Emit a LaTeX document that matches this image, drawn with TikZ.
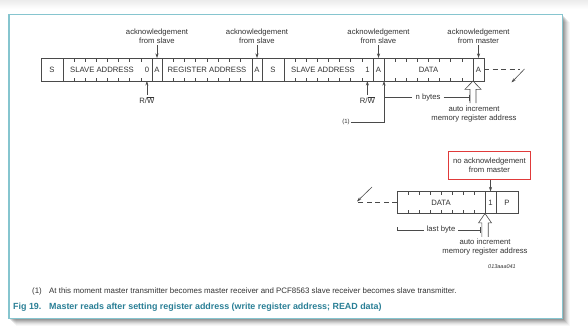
\documentclass[tikz,border=0pt]{standalone}
\usepackage{fontspec}
\setmainfont{Liberation Sans}
\usetikzlibrary{arrows.meta, calc, positioning}
\definecolor{linegray}{HTML}{4A4A4A}
\definecolor{txtgray}{HTML}{333333}
\definecolor{frameteal}{HTML}{86C5CF}
\definecolor{capteal}{HTML}{2A7F96}
\definecolor{nackred}{HTML}{E03A3A}
\newcommand{\diagfont}{\fontsize{7.7}{9}\selectfont}
\newcommand{\notefont}{\fontsize{7.9}{9}\selectfont}
\newcommand{\capfont}{\fontsize{8.9}{10}\selectfont\bfseries}
\newcommand{\rwbar}{R/$\overline{\hbox{W}}$}
\tikzset{
	field/.style={
			draw=linegray,
			line width=0.6pt,
			minimum height=23pt,
			inner sep=0pt,
			outer sep=0pt,
			text=txtgray,
			font=\diagfont
		},
	bittxt/.style={
			field,
			draw=none
		},
	plaintxt/.style={
			text=txtgray,
			font=\diagfont,
			inner sep=1pt,
			align=center
		},
	ptr/.style={
			draw=linegray,
			line width=0.6pt,
			-{Stealth[length=4.5pt, width=3pt]}
		},
	thinline/.style={
			draw=linegray,
			line width=0.6pt
		},
	contline/.style={
			thinline,
			dash pattern=on 5pt off 3.5pt
		},
	hollow/.style={
			thinline,
			line join=miter
		},
	nacknode/.style={
			plaintxt,
			draw=nackred,
			line width=0.8pt,
			minimum width=82pt,
			minimum height=27.5pt
		}
}

\begin{document}
\begin{tikzpicture}[x=1pt, y=-1pt]
\useasboundingbox (0,0) rectangle (588,332);
% page band, shadow and frame
\shade[top color=gray!15, bottom color=white] (0,0) rectangle (588,9);
\foreach \d/\o in {1/0.12,2/0.11,3/0.10,4/0.09,5/0.07,6/0.06,7/0.04,8/0.03}
  \fill[black, opacity=\o] (8+\d,14+\d) rectangle (562+\d,318+\d);
\fill[white] (8,14) rectangle (562,318);
\draw[frameteal, line width=1pt] (8,14) rectangle (562,318);
\draw[frameteal, line width=2pt] (8.5,14) -- (8.5,318);

% write register address, then read
\node[field, minimum width=22pt] (s1) at (52,69.5) {S};
\node[field, minimum width=89pt] (sla1) at (107.5,69.5) {};
\node[field, minimum width=10pt] (a1) at (157,69.5) {A};
\node[field, minimum width=90pt] (reg) at (207,69.5) {REGISTER ADDRESS};
\node[field, minimum width=10pt] (a2) at (257,69.5) {A};
\node[field, minimum width=22pt] (s2) at (273,69.5) {S};
\node[field, minimum width=89pt] (sla2) at (328.5,69.5) {};
\node[field, minimum width=11pt] (a3) at (378.5,69.5) {A};
\node[field, minimum width=89pt] (data1) at (428.5,69.5) {DATA};
\node[field, minimum width=11pt] (a4) at (478.5,69.5) {A};
\node[bittxt] (sla1txt) at (102,69.5) {SLAVE ADDRESS};
\node[bittxt, minimum width=11pt] (rw1bit) at (146.9,69.5) {0};
\node[bittxt] (sla2txt) at (323,69.5) {SLAVE ADDRESS};
\node[bittxt, minimum width=11pt] (rw2bit) at (367.4,69.5) {1};

% last byte
\node[field, minimum width=88pt, minimum height=22pt] (data2) at (441,202.5) {DATA};
\node[field, minimum width=11pt, minimum height=22pt] (nack) at (490.5,202.5) {1};
\node[field, minimum width=22pt, minimum height=22pt] (p) at (507,202.5) {P};

% bit ticks
\foreach \b in {sla1, reg, sla2, data1, data2}
  \foreach \k in {1,...,7} {
    \draw[thinline] ($(\b.north west)!\k/8!(\b.north east)$) -- ++(0,3.5);
    \draw[thinline] ($(\b.south west)!\k/8!(\b.south east)$) -- ++(0,-3.5);
  }

\node[plaintxt] (ack1) at (157,36.5) {acknowledgement\\from slave};
\node[plaintxt] (ack2) at (257,36.5) {acknowledgement\\from slave};
\node[plaintxt] (ack3) at (378.5,36.5) {acknowledgement\\from slave};
\node[plaintxt] (ack4) at (478.5,36.5) {acknowledgement\\from master};
\draw[ptr] (ack1) -- (a1);
\draw[ptr] (ack2) -- (a2);
\draw[ptr] (ack3) -- (a3);
\draw[ptr] (ack4) -- (a4);

\node[plaintxt] (rw1lab) at (146.9,100) {\rwbar};
\node[plaintxt] (rw2lab) at (367.4,100) {\rwbar};
\draw[ptr] (rw1lab) -- (rw1bit.south);
\draw[ptr] (rw2lab) -- (rw2bit.south);

\node[plaintxt, font=\fontsize{6}{7}\selectfont] (note1) at (346,122) {(1)};
\draw[ptr] (note1) -| (data1.south west);

\node[plaintxt, inner sep=3pt] (nbytes) at (428,97.5) {n bytes};
\coordinate (nbend) at (469.5,97.5);
\draw[thinline] (data1.south west |- nbytes) -- (nbytes) -- (nbend);
\draw[thinline] ($(nbend)+(0,-3)$) -- ($(nbend)+(0,3)$);

\coordinate (inc1) at (data1.south east);
\draw[hollow] ($(inc1)+(-3,22)$) -- ++(0,-13.7) -- ++(-5,0) -- (inc1)
  -- ++(8,8.3) -- ++(-5,0) -- ++(0,13.7);
\node[plaintxt] (auto1) at (474,113.7) {auto increment\\memory register address};

\coordinate (cont1) at (520,69.5);
\draw[contline] (a4) -- (cont1);
\coordinate (dia1a) at (524.5,69);
\coordinate (dia1b) at (511.5,82.5);
\draw[ptr] (dia1a) -- (dia1b);

\node[nacknode] (nacklab) at (489.5,165.5) {no acknowledgement\\from master};
\draw[ptr] (nacklab.south -| nack.north) -- (nack.north);

\coordinate (cont2) at (358,202.5);
\draw[contline] (data2) -- (cont2);
\coordinate (dia2a) at (372,187);
\coordinate (dia2b) at (357,201.5);
\draw[ptr] (dia2a) -- (dia2b);

\node[plaintxt, inner sep=2.5pt] (lastbyte) at (441,230) {last byte};
\coordinate (lbl) at (397,230);
\coordinate (lbr) at (480,230);
\draw[thinline] ($(lbl)+(0,-3)$) -- (lbl) -- (lastbyte) -- (lbr);
\draw[thinline] ($(lbr)+(0,-3)$) -- ($(lbr)+(0,3)$);

\coordinate (inc2) at (data2.south east);
\draw[hollow] ($(inc2)+(-3.2,23.4)$) -- ++(0,-14) -- ++(-3.3,0) -- (inc2)
  -- ++(6.5,9.4) -- ++(-3.3,0) -- ++(0,14);
\node[plaintxt] (auto2) at (485,246.7) {auto increment\\memory register address};

\node[plaintxt, font=\fontsize{5.5}{6}\selectfont\itshape] (docid) at (502,267) {013aaa041};

% footnote and caption
\node[anchor=west, text=txtgray, font=\notefont, inner sep=0pt] (fnmark) at (32,291) {(1)};
\node[anchor=west, text=txtgray, font=\notefont, inner sep=0pt] (fntext) at (49,291)
  {At this moment master transmitter becomes master receiver and PCF8563 slave receiver becomes slave transmitter.};
\node[anchor=west, text=capteal, font=\capfont, inner sep=0pt] (capnum) at (13,307) {Fig 19.};
\node[anchor=west, text=capteal, font=\capfont, inner sep=0pt] (captext) at (49,307)
  {Master reads after setting register address (write register address; READ data)};
\end{tikzpicture}
\end{document}
